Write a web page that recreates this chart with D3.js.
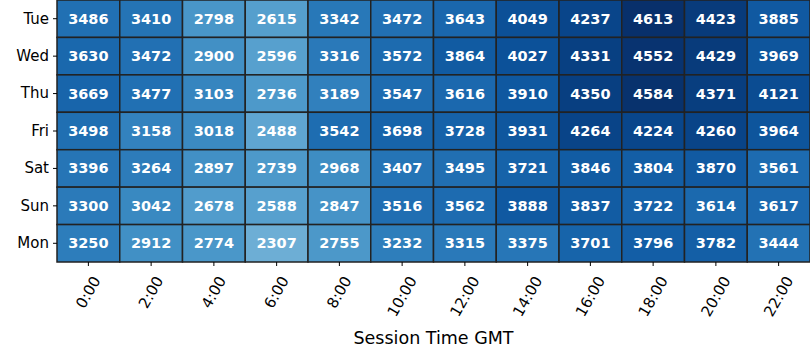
<!DOCTYPE html>
<html>
<head>
<meta charset="utf-8">
<script src="https://cdn.jsdelivr.net/npm/d3@7"></script>
<style>
  body { margin: 0; background: #fff; }
  svg { font-family: "DejaVu Sans", sans-serif; }
</style>
</head>
<body>
<div class="canvas"></div>
<script>
const days = ['Tue', 'Wed', 'Thu', 'Fri', 'Sat', 'Sun', 'Mon'];
const hours = ['0:00', '2:00', '4:00', '6:00', '8:00', '10:00', '12:00', '14:00', '16:00', '18:00', '20:00', '22:00'];
const tue = [3486, 3410, 2798, 2615, 3342, 3472, 3643, 4049, 4237, 4613, 4423, 3885];
const wed = [3630, 3472, 2900, 2596, 3316, 3572, 3864, 4027, 4331, 4552, 4429, 3969];
const thu = [3669, 3477, 3103, 2736, 3189, 3547, 3616, 3910, 4350, 4584, 4371, 4121];
const fri = [3498, 3158, 3018, 2488, 3542, 3698, 3728, 3931, 4264, 4224, 4260, 3964];
const sat = [3396, 3264, 2897, 2739, 2968, 3407, 3495, 3721, 3846, 3804, 3870, 3561];
const sun = [3300, 3042, 2678, 2588, 2847, 3516, 3562, 3888, 3837, 3722, 3614, 3617];
const mon = [3250, 2912, 2774, 2307, 2755, 3232, 3315, 3375, 3701, 3796, 3782, 3444];
const rows = [tue, wed, thu, fri, sat, sun, mon];

const margin = { top: 0, right: 0, bottom: 98, left: 57 };
const width = 810, height = 360;
const graphWidth = width - margin.left - margin.right;
const graphHeight = height - margin.top - margin.bottom;

const cells = [];
rows.forEach((r, i) => r.forEach((v, j) => cells.push({ day: days[i], hour: hours[j], value: v })));

const svg = d3.select('.canvas')
  .append('svg')
   .attr('width', width)
   .attr('height', height);

const graph = svg.append('g')
  .attr('transform', `translate(${margin.left}, ${margin.top})`);

const x = d3.scaleBand().domain(hours).range([0, graphWidth]);
const y = d3.scaleBand().domain(days).range([0, graphHeight]);
const color = d3.scaleSequential(d3.interpolateBlues)
  .domain([0, d3.max(cells, d => d.value)]);

graph.selectAll('rect')
  .data(cells)
  .enter()
  .append('rect')
   .attr('x', d => x(d.hour))
   .attr('y', d => y(d.day))
   .attr('width', x.bandwidth())
   .attr('height', y.bandwidth())
   .attr('fill', d => color(d.value))
   .attr('stroke', '#222')
   .attr('stroke-width', 1.5);

graph.selectAll('text.val')
  .data(cells)
  .enter()
  .append('text')
   .attr('class', 'val')
   .attr('x', d => x(d.hour) + x.bandwidth() / 2)
   .attr('y', d => y(d.day) + y.bandwidth() / 2)
   .attr('text-anchor', 'middle')
   .attr('dominant-baseline', 'central')
   .attr('fill', '#fff')
   .style('font-weight', 'bold')
   .style('font-size', '14.5px')
   .text(d => d.value);

//axes
const xAxisGroup = graph.append('g')
  .attr('transform', `translate(0, ${graphHeight})`)
  .call(d3.axisBottom(x).tickSize(4).tickPadding(4));
const yAxisGroup = graph.append('g')
  .call(d3.axisLeft(y).tickSize(4).tickPadding(4));

[xAxisGroup, yAxisGroup].forEach(g => {
  g.select('.domain').remove();
  g.selectAll('line').attr('stroke', '#000');
  g.selectAll('text').attr('fill', '#000').style('font-size', '15px').style('font-family', '"DejaVu Sans", sans-serif');
});

//rotated labels, centred under the tick, top of rotated box aligned
const ang = 60 * Math.PI / 180;
xAxisGroup.selectAll('text')
  .attr('text-anchor', 'middle')
  .attr('dominant-baseline', 'central')
  .attr('y', 0)
  .attr('dy', 0)
  .attr('transform', function() {
    const L = this.getComputedTextLength();
    const h = 15;
    const cy = 12 + (L * Math.sin(ang) + h * Math.cos(ang)) / 2;
    return `translate(0, ${cy}) rotate(-60)`;
  });

svg.append('text')
  .attr('x', margin.left + graphWidth / 2)
  .attr('y', 344)
  .attr('text-anchor', 'middle')
  .style('font-size', '17.5px')
  .text('Session Time GMT');
</script>
</body>
</html>
